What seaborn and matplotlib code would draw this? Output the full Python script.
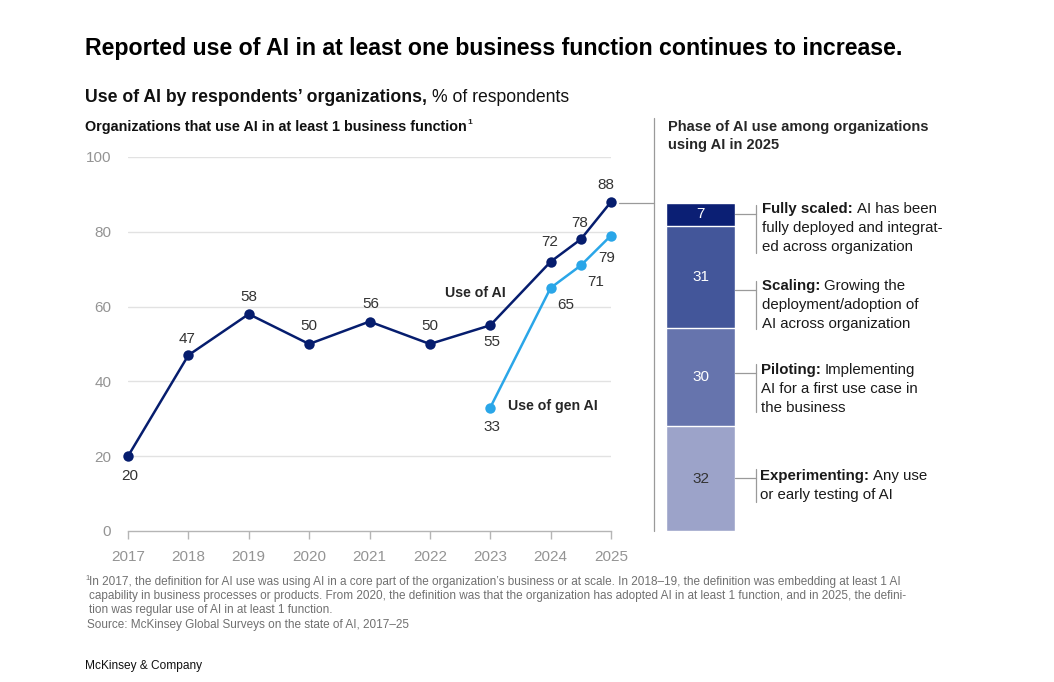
import matplotlib
matplotlib.use('Agg')
import matplotlib.pyplot as plt
import seaborn as sns
import pandas as pd
from matplotlib.lines import Line2D

# dados
anos_ai = [2017, 2018, 2019, 2020, 2021, 2022, 2023, 2024, 2024.5, 2025]
uso_ai = [20, 47, 58, 50, 56, 50, 55, 72, 78, 88]
anos_gen = [2023, 2024, 2024.5, 2025]
uso_gen = [33, 65, 71, 79]
# posicao dos rotulos (pt) relativo ao ponto
off_ai = [(1, -14), (-1, 12), (0, 12), (0, 13), (1, 13), (0, 13), (1, -12), (-1, 14), (-1, 12), (-4, 12)]
off_gen = [(1, -14), (11, -12), (11, -12), (-3, -16)]

fases = ['Experimenting', 'Piloting', 'Scaling', 'Fully scaled']
fases_val = [32, 30, 31, 7]
fases_cor = ['#9ca3c9', '#6674ad', '#43569a', '#0b1f74']
fases_txt_cor = ['#333333', 'white', 'white', 'white']
fases_desc = [
    ['Any use', 'or early testing of AI'],
    ['Implementing', 'AI for a first use case in', 'the business'],
    ['Growing the', 'deployment/adoption of', 'AI across organization'],
    ['AI has been', 'fully deployed and integrat-', 'ed across organization'],
]
anos_ticks = list(range(2017, 2026))
y_ticks = [0, 20, 40, 60, 80, 100]

AZUL = '#061d6e'
CIANO = '#2aa6e8'
CINZA = '#949494'

W, H = 1054, 682
sns.set_theme(style='white')
plt.rcParams['font.family'] = ['Liberation Sans', 'DejaVu Sans']

fig = plt.figure(figsize=(W / 100, H / 100), dpi=100)


def px(x, y):
    return x / W, 1 - y / H


def fig_line(x0, y0, x1, y1, cor='#9a9a9a', lw=0.9):
    a, b = px(x0, y0)
    c, d = px(x1, y1)
    fig.add_artist(Line2D([a, c], [b, d], color=cor, lw=lw, transform=fig.transFigure))


renderer = fig.canvas.get_renderer()


def texto_misto(x, y, partes, size, cor='black'):
    # partes: lista de (texto, peso)
    xx = x
    for t, w in partes:
        obj = fig.text(*px(xx, y), t, fontsize=size, fontweight=w, color=cor, va='center', ha='left')
        bb = obj.get_window_extent(renderer)
        xx = bb.x1
    return xx


# ---- grafico de linhas ----
ax = fig.add_axes([128 / W, (H - 531) / H, 483 / W, 374 / H])
df_ai = pd.DataFrame({'ano': anos_ai, 'valor': uso_ai})
df_gen = pd.DataFrame({'ano': anos_gen, 'valor': uso_gen})
sns.lineplot(data=df_ai, x='ano', y='valor', ax=ax, color=AZUL, lw=1.8, marker='o',
             markersize=7.5, markeredgewidth=0, zorder=5, clip_on=False)
sns.lineplot(data=df_gen, x='ano', y='valor', ax=ax, color=CIANO, lw=1.8, marker='o',
             markersize=7.5, markeredgewidth=0, zorder=5, clip_on=False)

for xv, yv, (dx, dy) in zip(anos_ai, uso_ai, off_ai):
    ax.annotate(str(yv), (xv, yv), xytext=(dx, dy), textcoords='offset points',
                ha='center', va='center', fontsize=11, color='#333333')
for xv, yv, (dx, dy) in zip(anos_gen, uso_gen, off_gen):
    ax.annotate(str(yv), (xv, yv), xytext=(dx, dy), textcoords='offset points',
                ha='center', va='center', fontsize=11, color='#333333')

ax.text(2023.26, 63.6, 'Use of AI', ha='right', va='center', fontsize=10.2, fontweight='bold')
ax.text(2023.29, 33.4, 'Use of gen AI', ha='left', va='center', fontsize=10.2, fontweight='bold')

ax.set_xlim(2017, 2025)
ax.set_ylim(0, 100)
ax.set_xticks(anos_ticks)
ax.set_xticklabels([str(a) for a in anos_ticks])
ax.set_yticks(y_ticks)
ax.set_yticklabels([str(v) for v in y_ticks])
for v in y_ticks[1:]:
    ax.axhline(v, color='#e2e2e2', lw=1, zorder=0)
for s in ['top', 'right', 'left']:
    ax.spines[s].set_visible(False)
ax.spines['bottom'].set_color('#b5b5b5')
ax.spines['bottom'].set_linewidth(1)
ax.tick_params(axis='x', which='both', bottom=True, length=6, width=1, color='#b5b5b5',
               labelsize=11, labelcolor=CINZA, pad=14, direction='in')
ax.tick_params(axis='y', left=False, length=0, labelsize=11, labelcolor=CINZA, pad=12)
ax.set_xlabel('')
ax.set_ylabel('')
ax.grid(False)
# ticks para baixo
for t in ax.xaxis.get_major_ticks():
    t.tick1line.set_marker(3)

# ---- barra empilhada ----
axb = fig.add_axes([666 / W, (H - 531) / H, 69 / W, 328 / H])
cum = []
s = 0
for v in fases_val:
    s += v
    cum.append(s)
# desenha do maior acumulado para o menor (empilhamento estilo seaborn)
for i in range(len(fases_val) - 1, -1, -1):
    sns.barplot(x=[0], y=[cum[i]], ax=axb, color=fases_cor[i], width=1,
                edgecolor='white', linewidth=1, saturation=1)
for i, v in enumerate(fases_val):
    axb.text(0, cum[i] - v / 2, str(v), ha='center', va='center', fontsize=11,
             color=fases_txt_cor[i])
axb.set_xlim(-0.5, 0.5)
axb.set_ylim(0, 100)
axb.axis('off')

# linhas de ligacao / separador
fig_line(654, 118, 654, 531)
fig_line(619, 203, 654, 203)

# colchetes e textos das fases
brackets = [(478, 469, 502), (373, 364, 412), (290, 281, 329), (214, 205, 253)]
text_y = [[476, 495], [370, 389, 408], [286, 305, 324], [209, 228, 247]]
text_x = [760, 761, 762, 762]
for i in range(len(fases)):
    hy, v0, v1 = brackets[i]
    fig_line(735, hy, 756, hy)
    fig_line(756, v0, 756, v1)
    linhas = fases_desc[i]
    texto_misto(text_x[i], text_y[i][0], [(fases[i] + ': ', 'bold'), (linhas[0], 'normal')], 10.8, '#1a1a1a')
    for ln, yy in zip(linhas[1:], text_y[i][1:]):
        fig.text(*px(text_x[i], yy), ln, fontsize=10.8, color='#1a1a1a', va='center', ha='left')

# ---- titulos ----
fig.text(*px(85, 49), 'Reported use of AI in at least one business function continues to increase.',
         fontsize=16.7, fontweight='bold', va='center', ha='left', color='black')
texto_misto(85, 98, [("Use of AI by respondents’ organizations, ", 'bold'), ('% of respondents', 'normal')], 12.7, '#111111')
xe = texto_misto(85, 127, [('Organizations that use AI in at least 1 business function', 'bold')], 10.4, '#111111')
fig.text(xe / W + 0.0008, 1 - 122 / H, '1', fontsize=6, fontweight='bold', va='center', ha='left')
fig.text(*px(668, 127), 'Phase of AI use among organizations', fontsize=10.5, fontweight='bold', va='center', ha='left')
fig.text(*px(668, 145), 'using AI in 2025', fontsize=10.5, fontweight='bold', va='center', ha='left')

# ---- nota de rodape ----
nota = [
    'In 2017, the definition for AI use was using AI in a core part of the organization’s business or at scale. In 2018–19, the definition was embedding at least 1 AI',
    'capability in business processes or products. From 2020, the definition was that the organization has adopted AI in at least 1 function, and in 2025, the defini-',
    'tion was regular use of AI in at least 1 function.',
    'Source: McKinsey Global Surveys on the state of AI, 2017–25',
]
fn = 8.45
fig.text(*px(85, 579), '1', fontsize=5.5, color='#707070', va='center', ha='left')
fig.text(*px(89, 582), nota[0], fontsize=fn, color='#707070', va='center', ha='left')
fig.text(*px(89, 596), nota[1], fontsize=fn, color='#707070', va='center', ha='left')
fig.text(*px(89, 610), nota[2], fontsize=fn, color='#707070', va='center', ha='left')
fig.text(*px(87, 625), nota[3], fontsize=fn, color='#707070', va='center', ha='left')
fig.text(*px(85, 666), 'McKinsey & Company', fontsize=8.6, color='#111111', va='center', ha='left')

fig.savefig('out.png', dpi=100)
